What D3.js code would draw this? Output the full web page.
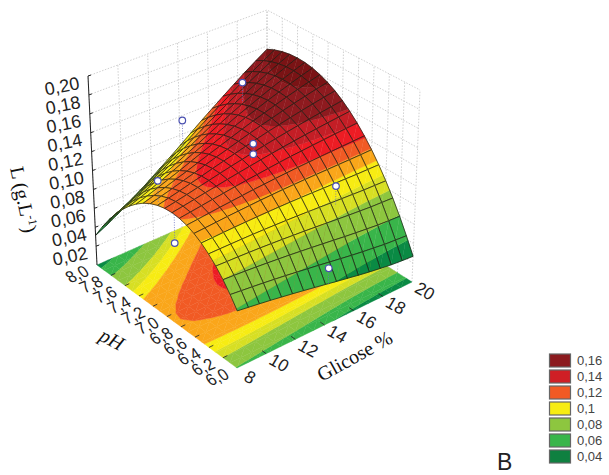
<!DOCTYPE html>
<html>
<head>
<meta charset="utf-8">
<script src="https://cdn.jsdelivr.net/npm/d3@7"></script>
<style>
  html, body { margin: 0; background: #fff; }
  svg { display: block; }
</style>
</head>
<body>
<script>
// Tick labels
const glucoseTicks = [8, 10, 12, 14, 16, 18, 20];
const phTicks = [8, 7.8, 7.6, 7.4, 7.2, 7, 6.8, 6.6, 6.4, 6.2, 6];
const phLabels = ['8,0', '7,8', '7,6', '7,4', '7,2', '7,0', '6,8', '6,6', '6,4', '6,2', '6,0'];
const loadTicks = [0.02, 0.04, 0.06, 0.08, 0.1, 0.12, 0.14, 0.16, 0.18, 0.2];
const loadLabels = ['0,02', '0,04', '0,06', '0,08', '0,10', '0,12', '0,14', '0,16', '0,18', '0,20'];

// Legend
const legendLabels = ['0,16', '0,14', '0,12', '0,1', '0,08', '0,06', '0,04'];
const legendColors = ['#8b1a1e', '#cf1f25', '#f15a24', '#f7ec13', '#8dc63f', '#39b54a', '#0f8040'];

// Colour bands, upper limit of each band on the surface and on the floor
const surfaceLimits = [0.04, 0.06, 0.08, 0.092, 0.103, 0.112, 0.12, 0.13, 0.14, 0.155];
const floorLimits = [0.04, 0.06, 0.08, 0.09, 0.1, 0.114, 0.125, 0.135, 0.145, 0.16];
const bandColors = ['#0a8a44', '#39b54a', '#8dc63f', '#d7df23', '#f7ec13', '#faa61a', '#f15a24', '#ed1c24', '#c41e26', '#8e1a1f', '#7a1315'];

// Surface grid, one row per glucose value, one column per pH value
const glucoseGrid = [8, 8.75, 9.5, 10.25, 11, 11.75, 12.5, 13.25, 14, 14.75, 15.5, 16.25, 17, 17.75, 18.5, 19.25, 20];
const phGrid = [6, 6.1, 6.2, 6.3, 6.4, 6.5, 6.6, 6.7, 6.8, 6.9, 7, 7.1, 7.2, 7.3, 7.4, 7.5, 7.6, 7.7, 7.8, 7.9, 8];
const surface = [
  [.0583,.0698,.0799,.0887,.0961,.1022,.1069,.1103,.1123,.1130,.1123,.1103,.1069,.1022,.0961,.0887,.0799,.0698,.0583,.0455,.0313],
  [.0565,.0684,.0790,.0881,.0960,.1024,.1075,.1113,.1137,.1147,.1144,.1128,.1098,.1054,.0996,.0926,.0841,.0743,.0632,.0507,.0368],
  [.0547,.0670,.0780,.0876,.0958,.1027,.1082,.1124,.1152,.1166,.1167,.1154,.1128,.1088,.1035,.0968,.0887,.0793,.0685,.0564,.0429],
  [.0528,.0655,.0769,.0869,.0956,.1029,.1089,.1135,.1167,.1186,.1191,.1183,.1161,.1126,.1077,.1014,.0938,.0848,.0745,.0628,.0497],
  [.0507,.0639,.0757,.0862,.0953,.1030,.1094,.1144,.1181,.1204,.1214,.1210,.1193,.1162,.1118,.1060,.0989,.0904,.0805,.0693,.0567],
  [.0486,.0622,.0744,.0853,.0949,.1031,.1099,.1154,.1196,.1224,.1239,.1240,.1228,.1202,.1163,.1110,.1044,.0964,.0871,.0764,.0644],
  [.0464,.0604,.0731,.0844,.0944,.1031,.1104,.1164,.1210,.1243,.1263,.1269,.1262,.1242,.1208,.1161,.1100,.1026,.0939,.0838,.0724],
  [.0441,.0585,.0716,.0833,.0938,.1029,.1107,.1171,.1222,.1260,.1285,.1297,.1295,.1280,.1252,.1210,.1155,.1087,.1006,.0911,.0803],
  [.0418,.0566,.0701,.0823,.0932,.1027,.1110,.1179,.1235,.1278,.1308,.1325,.1329,.1320,.1298,.1262,.1214,.1152,.1077,.0989,.0888],
  [.0394,.0546,.0685,.0811,.0924,.1024,.1111,.1185,.1247,.1295,.1331,.1354,.1363,.1360,.1344,.1315,.1273,.1218,.1150,.1070,.0976],
  [.0371,.0526,.0669,.0799,.0916,.1020,.1112,.1191,.1258,.1311,.1352,.1381,.1396,.1399,.1389,.1367,.1332,.1284,.1223,.1150,.1064],
  [.0348,.0506,.0652,.0786,.0907,.1015,.1112,.1195,.1266,.1325,.1371,.1405,.1426,.1435,.1431,.1415,.1387,.1346,.1293,.1227,.1149],
  [.0327,.0488,.0637,.0774,.0899,.1011,.1111,.1199,.1275,.1339,.1390,.1430,.1457,.1472,.1475,.1465,.1443,.1409,.1363,.1305,.1235],
  [.0308,.0472,.0623,.0763,.0891,.1007,.1111,.1203,.1283,.1352,.1408,.1453,.1486,.1507,.1516,.1513,.1498,.1471,.1433,.1382,.1320],
  [.0290,.0455,.0609,.0752,.0883,.1002,.1110,.1206,.1291,.1364,.1425,.1475,.1513,.1540,.1555,.1559,.1551,.1532,.1501,.1459,.1405],
  [.0278,.0445,.0600,.0745,.0878,.1000,.1110,.1210,.1298,.1375,.1441,.1496,.1540,.1572,.1593,.1603,.1602,.1589,.1566,.1531,.1485],
  [.0268,.0435,.0592,.0738,.0873,.0997,.1111,.1213,.1305,.1386,.1456,.1516,.1564,.1602,.1629,.1645,.1650,.1645,.1629,.1602,.1564]
];

// Observed points and the height of the surface under each one
const pointGlucose = [16.1, 14, 14, 14, 8.2, 8, 16.6, 14.2];
const pointPh = [7.56, 7.96, 7, 7, 7.13, 6.87, 6.4, 6];
const pointLoad = [0.165, 0.118, 0.14, 0.129, 0.133, 0.083, 0.106, 0.057];
const pointFit = [0.145, 0.09, 0.131, 0.131, 0.11, 0.113, 0.085, 0.04];

// Scales from data to the unit cube
const gScale = d3.scaleLinear().domain([8, 20]).range([0, 1]);
const pScale = d3.scaleLinear().domain([6, 8]).range([0, 1]);
const zScale = d3.scaleLinear().domain([0, 0.2]).range([0, 1]);

// Screen position of the cube corners, floor and top
const floorCorners = { front: [237, 368], right: [412, 282], left: [97, 265], back: [267, 190] };
const topCorners = { front: [238, 172], right: [420, 90], left: [88, 76], back: [267, 10] };

function bilinear(c, u, v) {
  const mix = k => (1 - u) * (1 - v) * c.front[k] + u * (1 - v) * c.right[k] + (1 - u) * v * c.left[k] + u * v * c.back[k];
  return [mix(0), mix(1)];
}

// Project glucose, pH, L to the screen
function project(g, p, z) {
  const u = gScale(g), v = pScale(p), w = zScale(z);
  const a = bilinear(floorCorners, u, v), b = bilinear(topCorners, u, v);
  return [a[0] + (b[0] - a[0]) * w, a[1] + (b[1] - a[1]) * w];
}

const svg = d3.select('body').append('svg').attr('width', 609).attr('height', 475);
const line = d3.line();
const closed = d3.line().curve(d3.curveLinearClosed);

// Walls
const walls = svg.append('g')
  .attr('fill', 'none')
  .attr('stroke', '#c4c4c4')
  .attr('stroke-width', 0.8)
  .attr('stroke-dasharray', '1.5,1.5');
[0].concat(loadTicks).forEach(z => {
  walls.append('path').attr('d', line([project(8, 8, z), project(20, 8, z), project(20, 6, z)]));
});
glucoseTicks.forEach(g => {
  walls.append('path').attr('d', line([project(g, 8, 0), project(g, 8, 0.2)]));
});
phTicks.forEach(p => {
  walls.append('path').attr('d', line([project(20, p, 0), project(20, p, 0.2)]));
});

// Cut a polygon to the part between two heights
function clipAt(pts, limit, keepAbove) {
  const out = [];
  const inside = q => keepAbove ? q.z >= limit : q.z <= limit;
  pts.forEach((a, i) => {
    const b = pts[(i + 1) % pts.length];
    if (inside(a)) out.push(a);
    if (inside(a) !== inside(b)) {
      const t = (limit - a.z) / (b.z - a.z);
      out.push({ g: a.g + (b.g - a.g) * t, p: a.p + (b.p - a.p) * t, z: limit });
    }
  });
  return out;
}

function drawBands(group, tri, limits, flat) {
  bandColors.forEach((color, b) => {
    let pts = tri;
    if (b > 0) pts = clipAt(pts, limits[b - 1], true);
    if (pts.length && b < limits.length) pts = clipAt(pts, limits[b], false);
    if (pts.length < 3) return;
    group.append('path')
      .attr('d', closed(pts.map(q => project(q.g, q.p, flat ? 0 : q.z))))
      .attr('fill', color)
      .attr('stroke', color)
      .attr('stroke-width', 0.4);
  });
}

function cellCorners(i, j) {
  const node = (r, c) => ({ g: glucoseGrid[r], p: phGrid[c], z: surface[r][c] });
  return [node(i, j), node(i + 1, j), node(i + 1, j + 1), node(i, j + 1)];
}

// Contours on the floor
const floor = svg.append('g');
d3.range(surface.length - 1).forEach(i => {
  d3.range(phGrid.length - 1).forEach(j => {
    const q = cellCorners(i, j);
    drawBands(floor, [q[0], q[1], q[2]], floorLimits, true);
    drawBands(floor, [q[0], q[2], q[3]], floorLimits, true);
  });
});

// Axis ticks on the floor
const axes = svg.append('g').attr('stroke', '#222').attr('stroke-width', 0.8).attr('fill', 'none');
glucoseTicks.slice(1, -1).forEach(g => {
  axes.append('path').attr('d', line([project(g, 6, 0), project(g, 6.06, 0)]));
});
phTicks.slice(1, -1).forEach(p => {
  axes.append('path').attr('d', line([project(8, p, 0), project(8.3, p, 0)]));
});

// Surface, far cells first
const mesh = svg.append('g');
d3.range(surface.length - 2, -1, -1).forEach(i => {
  d3.range(phGrid.length - 2, -1, -1).forEach(j => {
    const q = cellCorners(i, j);
    drawBands(mesh, [q[0], q[1], q[2]], surfaceLimits, false);
    drawBands(mesh, [q[0], q[2], q[3]], surfaceLimits, false);
    mesh.append('path')
      .attr('d', closed(q.map(n => project(n.g, n.p, n.z))))
      .attr('fill', 'none')
      .attr('stroke', '#1d1d14')
      .attr('stroke-opacity', 0.85)
      .attr('stroke-width', 0.85);
  });
});

// Vertical axis
svg.append('path')
  .attr('d', line([project(8, 8, 0), project(8, 8, 0.2)]))
  .attr('stroke', '#222').attr('stroke-width', 1).attr('fill', 'none');
loadTicks.forEach((z, i) => {
  const t = project(8, 8, z);
  svg.append('path').attr('d', line([t, [t[0] + 3, t[1] - 1]])).attr('stroke', '#222').attr('fill', 'none');
  svg.append('text')
    .attr('transform', `translate(${t[0] - 26},${t[1] + 10}) rotate(-11)`)
    .attr('text-anchor', 'middle').attr('dy', '0.35em')
    .attr('font-family', 'Liberation Sans').attr('font-size', 18).attr('fill', '#222')
    .text(loadLabels[i]);
});

// pH labels, laid on the floor
phTicks.forEach((p, i) => {
  const t = project(8, p, 0);
  svg.append('text')
    .attr('transform', `matrix(0.72,-0.3,0.5,0.72,${t[0] - 20},${t[1] + 9})`)
    .attr('text-anchor', 'middle').attr('dy', '0.35em')
    .attr('font-family', 'Liberation Sans').attr('font-size', 20).attr('fill', '#222')
    .text(phLabels[i]);
});

// Glucose labels, laid on the floor
glucoseTicks.forEach(g => {
  const t = project(g, 6, 0);
  svg.append('text')
    .attr('transform', `matrix(0.75,0.42,-0.45,0.75,${t[0] + 13},${t[1] + 9})`)
    .attr('text-anchor', 'middle').attr('dy', '0.35em')
    .attr('font-family', 'Liberation Sans').attr('font-size', 20).attr('fill', '#222')
    .text(g);
});

// Axis titles
const title = svg.append('text')
  .attr('transform', 'translate(17,201) rotate(78)')
  .attr('text-anchor', 'middle')
  .attr('font-family', 'Liberation Serif').attr('font-size', 20).attr('fill', '#111');
title.append('tspan').text('L (g.L');
title.append('tspan').attr('font-size', 12).attr('dy', -7).text('-1');
title.append('tspan').attr('dy', 7).text(')');

svg.append('text')
  .attr('transform', 'translate(108,345) rotate(28) skewX(-10)')
  .attr('text-anchor', 'middle')
  .attr('font-family', 'Liberation Serif').attr('font-size', 20).attr('fill', '#111')
  .text('pH');

svg.append('text')
  .attr('transform', 'translate(358,362) rotate(-29)')
  .attr('text-anchor', 'middle')
  .attr('font-family', 'Liberation Serif').attr('font-size', 20).attr('fill', '#111')
  .text('Glicose %');

// Observed points with their lines to the surface
pointGlucose.forEach((g, i) => {
  const top = project(g, pointPh[i], pointLoad[i]);
  const foot = project(g, pointPh[i], pointFit[i]);
  svg.append('path')
    .attr('d', line([top, foot]))
    .attr('stroke', '#6a6fc0').attr('stroke-width', 0.8).attr('stroke-dasharray', '1,1.5').attr('fill', 'none');
  svg.append('circle')
    .attr('cx', top[0]).attr('cy', top[1]).attr('r', 3.3)
    .attr('fill', '#fff').attr('stroke', '#4a50b0').attr('stroke-width', 1.2);
});

// Legend
const legend = svg.append('g');
legendLabels.forEach((label, i) => {
  const y = 354 + i * 16;
  legend.append('rect')
    .attr('x', 549.5).attr('y', y).attr('width', 21).attr('height', 13)
    .attr('fill', legendColors[i]).attr('stroke', '#666').attr('stroke-width', 1.2);
  legend.append('text')
    .attr('x', 577).attr('y', y + 11)
    .attr('font-family', 'Liberation Sans').attr('font-size', 13).attr('fill', '#444')
    .text(label);
});

svg.append('text')
  .attr('x', 497).attr('y', 470)
  .attr('font-family', 'Liberation Sans').attr('font-size', 23).attr('fill', '#222')
  .text('B');
</script>
</body>
</html>
